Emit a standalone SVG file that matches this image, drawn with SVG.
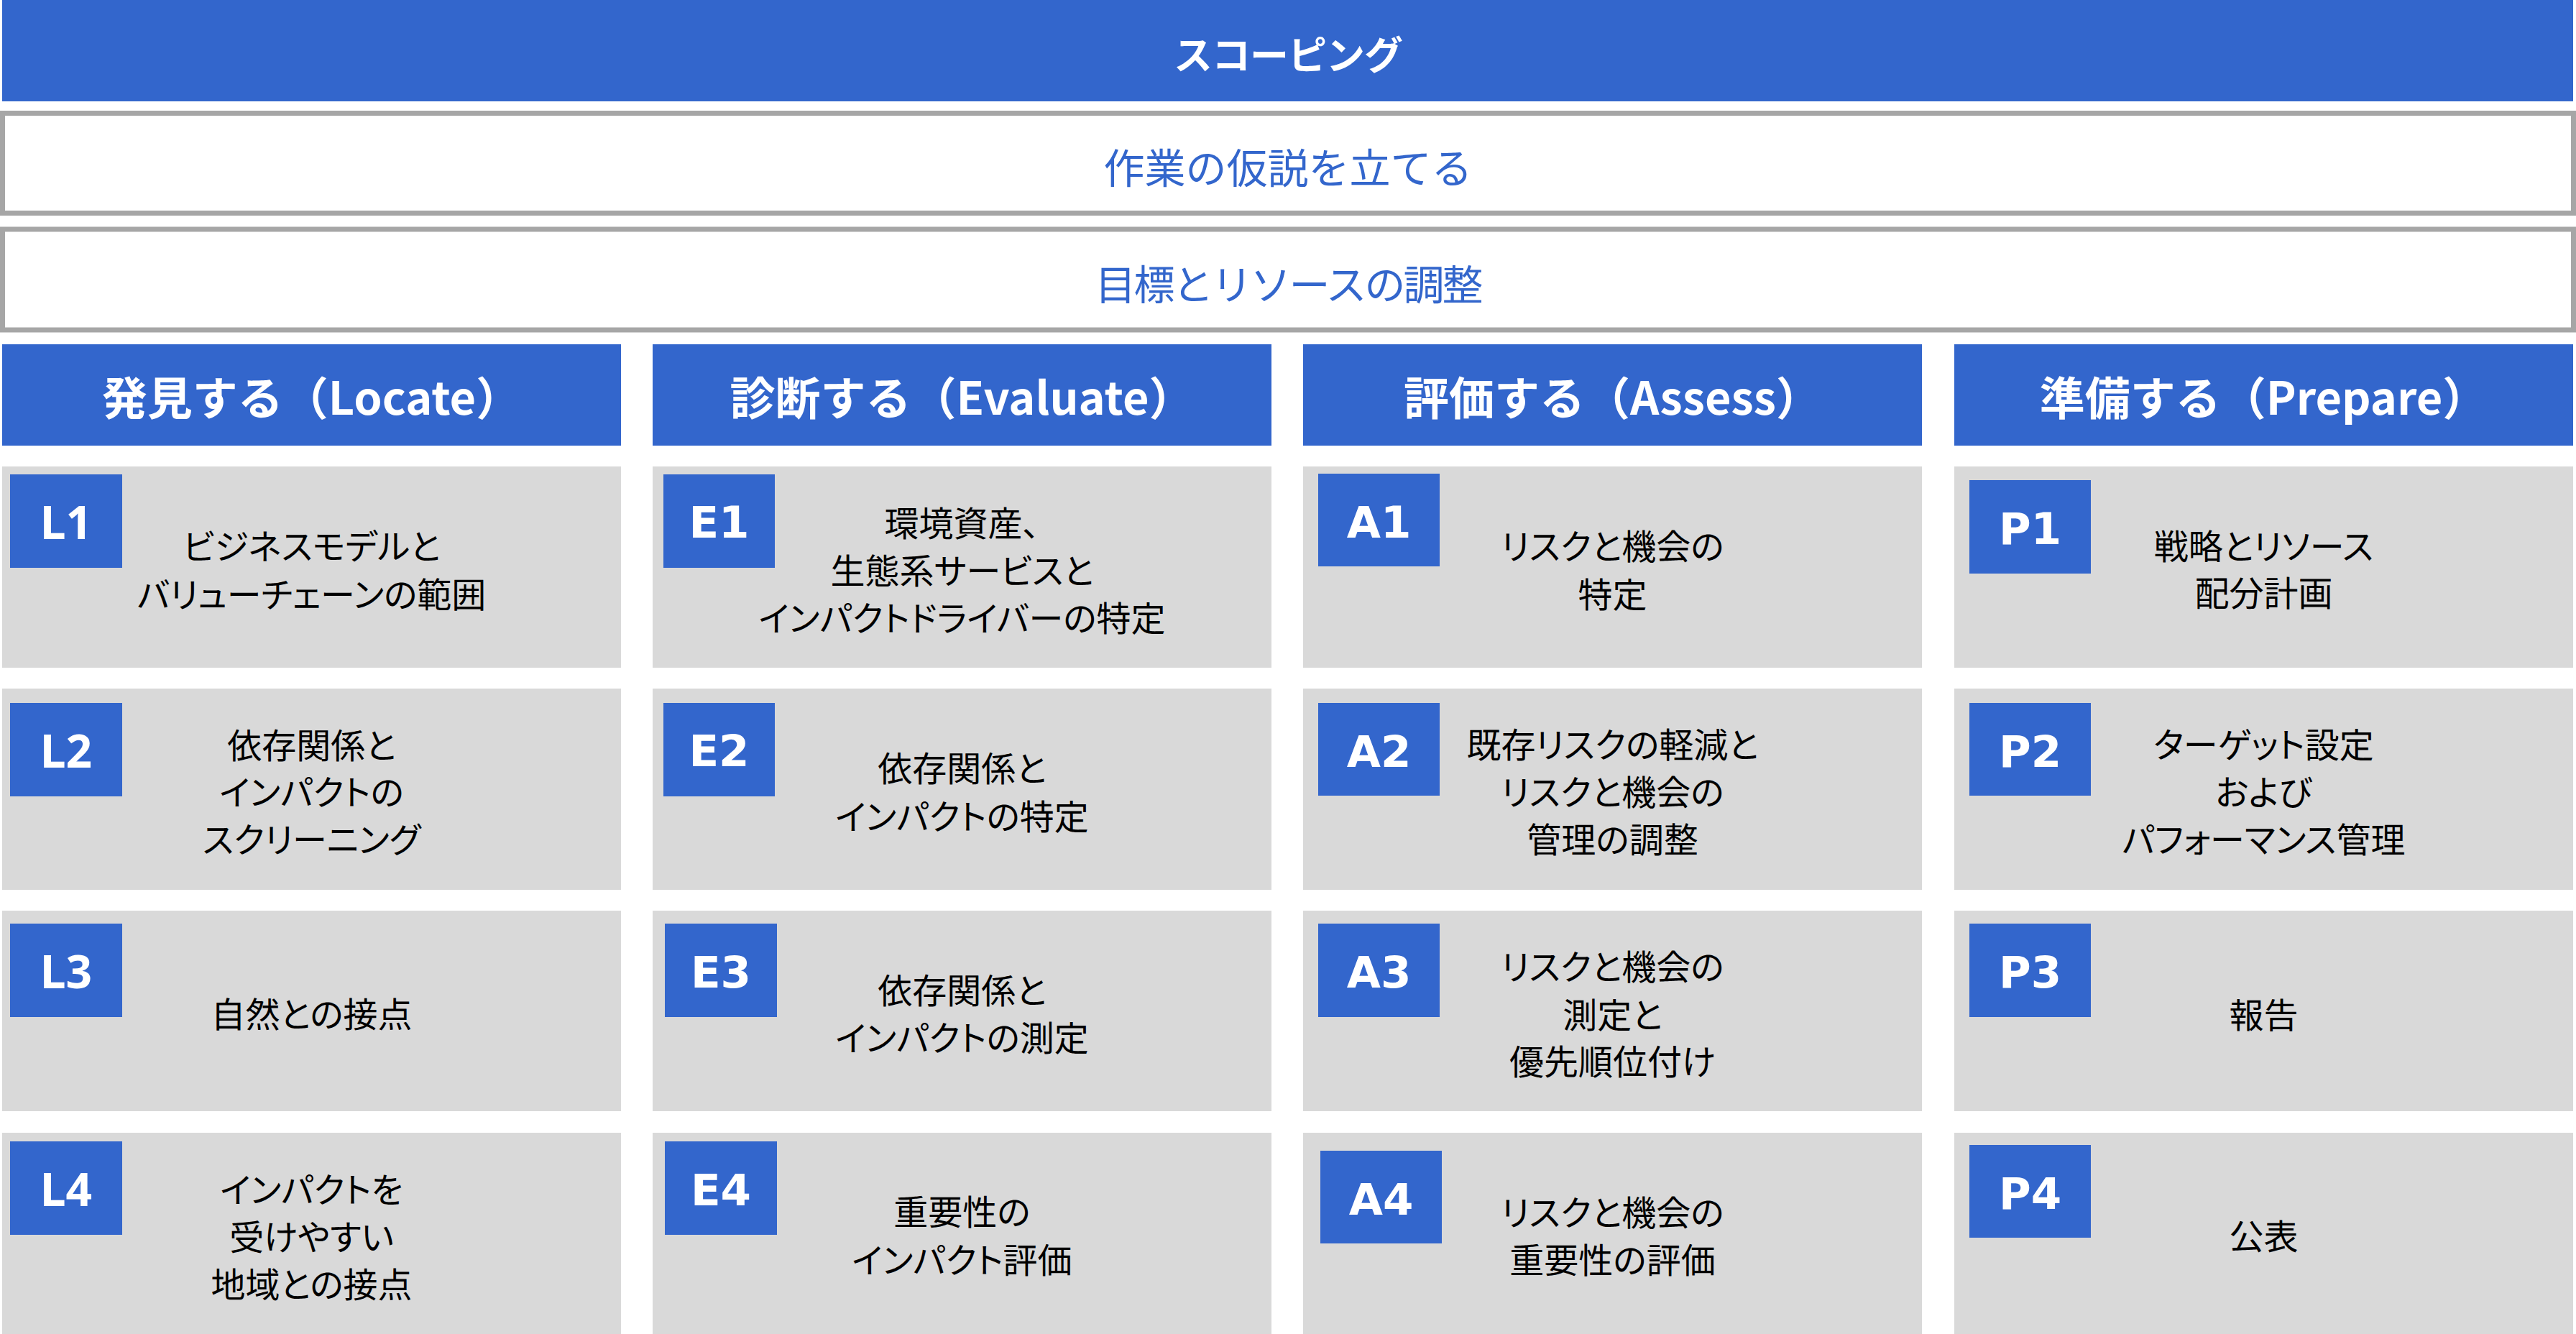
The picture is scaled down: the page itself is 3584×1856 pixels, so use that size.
<svg xmlns="http://www.w3.org/2000/svg" width="3584" height="1856" viewBox="0 0 3584 1856">
<style>
.bar{fill:#3366CC}
.frame{fill:#FFFFFF;stroke:#A6A6A6;stroke-width:7}
.card{fill:#D9D9D9}
.lab{fill:#3366CC}
.title{font-family:"Noto Sans CJK JP",sans-serif;font-weight:700;font-size:54px;fill:#FFFFFF;text-anchor:middle;letter-spacing:-1px}
.sub{font-family:"Noto Sans CJK JP",sans-serif;font-size:57px;fill:#3366CC;text-anchor:middle}
.hdr{font-family:"Noto Sans CJK JP",sans-serif;font-weight:700;font-size:63px;fill:#FFFFFF;text-anchor:middle}
.body{font-family:"Noto Sans CJK JP",sans-serif;font-size:48px;fill:#000000;text-anchor:middle;font-feature-settings:"palt"}
.lt{font-family:"Noto Sans","Open Sans",sans-serif;font-weight:700;font-size:64px;fill:#FFFFFF;text-anchor:middle}
.wt{font-family:"DejaVu Sans",sans-serif;font-weight:700;font-size:61px;fill:#FFFFFF;text-anchor:middle}
</style>
<rect width="3584" height="1856" fill="#FFFFFF"/>
<g id="scoping">
<rect class="bar" x="3" y="0" width="3577" height="141"/>
<text class="title" x="1792" y="97">スコーピング</text>
</g>
<g id="hypothesis">
<rect class="frame" x="3.5" y="157.5" width="3577" height="139"/>
<text class="sub" x="1792" y="255">作業の仮説を立てる</text>
</g>
<g id="alignment">
<rect class="frame" x="3.5" y="319" width="3577" height="140"/>
<text class="sub" x="1792" y="417" letter-spacing="-3">目標とリソースの調整</text>
</g>
<g id="header-locate">
<rect class="bar" x="3" y="479" width="861" height="141"/>
<text class="hdr" x="433.5" y="577">発見する（Locate）</text>
</g>
<g id="header-evaluate">
<rect class="bar" x="908" y="479" width="861" height="141"/>
<text class="hdr" x="1338.5" y="577">診断する（Evaluate）</text>
</g>
<g id="header-assess">
<rect class="bar" x="1813" y="479" width="861" height="141"/>
<text class="hdr" x="2243.5" y="577">評価する（Assess）</text>
</g>
<g id="header-prepare">
<rect class="bar" x="2719" y="479" width="861" height="141"/>
<text class="hdr" x="3149.5" y="577">準備する（Prepare）</text>
</g>

<g id="L1">
<rect class="card" x="3" y="649" width="861" height="280"/>
<rect class="lab" x="14" y="660" width="156" height="130"/>
<text class="lt" x="92" y="750">L1</text>
<text class="body" x="433.5" y="778">ビジネスモデルと</text>
<text class="body" x="433.5" y="845">バリューチェーンの範囲</text>
</g>
<g id="L2">
<rect class="card" x="3" y="958" width="861" height="280"/>
<rect class="lab" x="14" y="978" width="156" height="130"/>
<text class="lt" x="92" y="1068">L2</text>
<text class="body" x="433.5" y="1055">依存関係と</text>
<text class="body" x="433.5" y="1120">インパクトの</text>
<text class="body" x="433.5" y="1186">スクリーニング</text>
</g>
<g id="L3">
<rect class="card" x="3" y="1267" width="861" height="279"/>
<rect class="lab" x="14" y="1285" width="156" height="130"/>
<text class="lt" x="92" y="1375">L3</text>
<text class="body" x="433.5" y="1429">自然との接点</text>
</g>
<g id="L4">
<rect class="card" x="3" y="1576" width="861" height="280"/>
<rect class="lab" x="14" y="1588" width="156" height="130"/>
<text class="lt" x="92" y="1678">L4</text>
<text class="body" x="433.5" y="1673">インパクトを</text>
<text class="body" x="433.5" y="1739">受けやすい</text>
<text class="body" x="433.5" y="1805">地域との接点</text>
</g>

<g id="E1">
<rect class="card" x="908" y="649" width="861" height="280"/>
<rect class="lab" x="923" y="660" width="155" height="130"/>
<text class="wt" x="1000.5" y="748">E1</text>
<text class="body" x="1338.5" y="746">環境資産、</text>
<text class="body" x="1338.5" y="812">生態系サービスと</text>
<text class="body" x="1338.5" y="878">インパクトドライバーの特定</text>
</g>
<g id="E2">
<rect class="card" x="908" y="958" width="861" height="280"/>
<rect class="lab" x="923" y="978" width="155" height="130"/>
<text class="wt" x="1000.5" y="1066">E2</text>
<text class="body" x="1338.5" y="1087">依存関係と</text>
<text class="body" x="1338.5" y="1154">インパクトの特定</text>
</g>
<g id="E3">
<rect class="card" x="908" y="1267" width="861" height="279"/>
<rect class="lab" x="925" y="1285" width="156" height="130"/>
<text class="wt" x="1003" y="1374">E3</text>
<text class="body" x="1338.5" y="1396">依存関係と</text>
<text class="body" x="1338.5" y="1462">インパクトの測定</text>
</g>
<g id="E4">
<rect class="card" x="908" y="1576" width="861" height="280"/>
<rect class="lab" x="925" y="1588" width="156" height="130"/>
<text class="wt" x="1003" y="1677">E4</text>
<text class="body" x="1338.5" y="1704">重要性の</text>
<text class="body" x="1338.5" y="1771">インパクト評価</text>
</g>

<g id="A1">
<rect class="card" x="1813" y="649" width="861" height="280"/>
<rect class="lab" x="1834" y="659" width="169" height="129"/>
<text class="wt" x="1918.5" y="748">A1</text>
<text class="body" x="2243.5" y="778">リスクと機会の</text>
<text class="body" x="2243.5" y="845">特定</text>
</g>
<g id="A2">
<rect class="card" x="1813" y="958" width="861" height="280"/>
<rect class="lab" x="1834" y="978" width="169" height="129"/>
<text class="wt" x="1918.5" y="1067">A2</text>
<text class="body" x="2243.5" y="1054">既存リスクの軽減と</text>
<text class="body" x="2243.5" y="1120">リスクと機会の</text>
<text class="body" x="2243.5" y="1186">管理の調整</text>
</g>
<g id="A3">
<rect class="card" x="1813" y="1267" width="861" height="279"/>
<rect class="lab" x="1834" y="1285" width="169" height="130"/>
<text class="wt" x="1918.5" y="1374">A3</text>
<text class="body" x="2243.5" y="1363">リスクと機会の</text>
<text class="body" x="2243.5" y="1430">測定と</text>
<text class="body" x="2243.5" y="1495">優先順位付け</text>
</g>
<g id="A4">
<rect class="card" x="1813" y="1576" width="861" height="280"/>
<rect class="lab" x="1837" y="1601" width="169" height="129"/>
<text class="wt" x="1921.5" y="1690">A4</text>
<text class="body" x="2243.5" y="1705">リスクと機会の</text>
<text class="body" x="2243.5" y="1771">重要性の評価</text>
</g>

<g id="P1">
<rect class="card" x="2719" y="649" width="861" height="280"/>
<rect class="lab" x="2740" y="668" width="169" height="130"/>
<text class="wt" x="2824.5" y="757">P1</text>
<text class="body" x="3149.5" y="778">戦略とリソース</text>
<text class="body" x="3149.5" y="843">配分計画</text>
</g>
<g id="P2">
<rect class="card" x="2719" y="958" width="861" height="280"/>
<rect class="lab" x="2740" y="978" width="169" height="129"/>
<text class="wt" x="2824.5" y="1067">P2</text>
<text class="body" x="3149.5" y="1054">ターゲット設定</text>
<text class="body" x="3149.5" y="1120">および</text>
<text class="body" x="3149.5" y="1186">パフォーマンス管理</text>
</g>
<g id="P3">
<rect class="card" x="2719" y="1267" width="861" height="279"/>
<rect class="lab" x="2740" y="1285" width="169" height="130"/>
<text class="wt" x="2824.5" y="1374">P3</text>
<text class="body" x="3149.5" y="1430">報告</text>
</g>
<g id="P4">
<rect class="card" x="2719" y="1576" width="861" height="280"/>
<rect class="lab" x="2740" y="1593" width="169" height="129"/>
<text class="wt" x="2824.5" y="1682">P4</text>
<text class="body" x="3149.5" y="1738">公表</text>
</g>
<g id="connectors"/>
</svg>
